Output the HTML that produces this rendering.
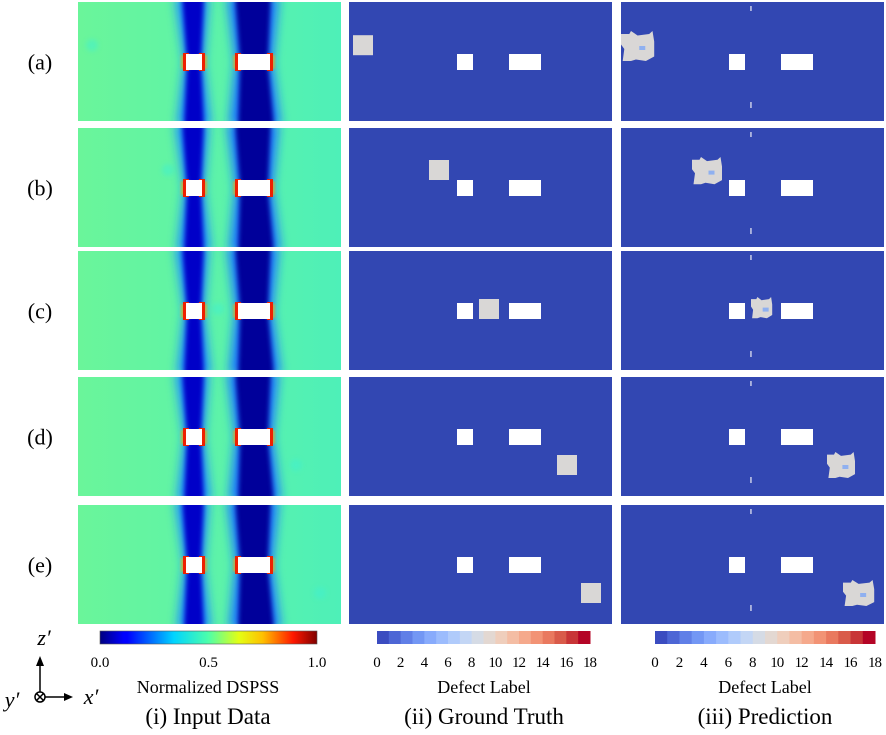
<!DOCTYPE html>
<html><head><meta charset="utf-8">
<style>
html,body{margin:0;padding:0;background:#fff;}
body{width:886px;height:735px;overflow:hidden;position:relative;font-family:"Liberation Serif",serif;}
svg{position:absolute;left:0;top:0;}
</style></head>
<body>
<svg id="fig" width="886" height="735" viewBox="0 0 886 735" xmlns="http://www.w3.org/2000/svg">
<defs>
  <linearGradient id="bg" x1="0" x2="1" y1="0" y2="0">
    <stop offset="0" stop-color="#6af59a"/><stop offset="0.5" stop-color="#5ef3a8"/><stop offset="1" stop-color="#4ef0b8"/>
  </linearGradient>
  <linearGradient id="jet" x1="0" x2="1">
    <stop offset="0" stop-color="#00007f"/><stop offset="0.11" stop-color="#0000ff"/><stop offset="0.125" stop-color="#0000ff"/>
    <stop offset="0.34" stop-color="#00d4ff"/><stop offset="0.5" stop-color="#4dffaa"/><stop offset="0.64" stop-color="#e3ff14"/>
    <stop offset="0.75" stop-color="#ffc000"/><stop offset="0.89" stop-color="#ff1800"/><stop offset="1" stop-color="#7f0000"/>
  </linearGradient>
  <filter id="blur6" x="-100%" y="-50%" width="300%" height="200%"><feGaussianBlur stdDeviation="5"/></filter>
  <filter id="blur3" x="-100%" y="-50%" width="300%" height="200%"><feGaussianBlur stdDeviation="2.5"/></filter>
  <filter id="blur1" x="-100%" y="-50%" width="300%" height="200%"><feGaussianBlur stdDeviation="1"/></filter>
</defs>
<g id="panels"></g>
<g id="bars"></g>
<g id="text"></g>
</svg>
<script>
// layout (px)
const colX = [78, 349, 621];
const colW = 263;
const rowY = [2, 128, 251, 377, 505];
const rowH = 119;
const CELL = 4;
// data (grid cell units within each panel, 66 x 30 grid)
const rowLabels = ['(a)','(b)','(c)','(d)','(e)'];
const holeSmall = [27, 13, 4, 4];   // col,row,w,h
const holeBig = [40, 13, 8, 4];
const gtDefectCol = [1, 20, 32.5, 52, 58];
const gtDefectRow = [8.3, 8, 12, 19.5, 19.5];
const gtDefectSize = 5;
const predBlobCol = [0, 17.75, 32.5, 51.5, 55.5];
const predBlobRow = [7.25, 7.25, 11.5, 18.75, 18.75];
const predBlobW = [8.3, 7.5, 5.3, 7, 7.8];
const predBlobH = [7.5, 6.8, 5.3, 6.5, 6.5];
const cbTicks1 = ['0.0','0.5','1.0'];
const cbTicks2 = ['0','2','4','6','8','10','12','14','16','18'];
const nLevels = 18;

const NS='http://www.w3.org/2000/svg';
function mk(tag, attrs, parent){const e=document.createElementNS(NS,tag);for(const k in attrs)e.setAttribute(k,attrs[k]);parent.appendChild(e);return e;}
const P=document.getElementById('panels');
const xs=(c,col)=>colX[col]+c*CELL;
const ys=(r,row)=>rowY[row]+r*CELL;
const blobShape=[[0,0.1],[0.25,0.1],[0.3,0],[0.5,0.15],[0.85,0.1],[0.95,0],[1,0.35],[1,0.85],[0.75,1],[0.45,0.95],[0.3,1],[0.05,1],[0.1,0.6],[0,0.45]];

for(let r=0;r<5;r++){
  const g=mk('g',{},P);
  
  
  const cid='clip'+r;
  const cp=mk('clipPath',{id:cid},g);
  mk('rect',{x:colX[0],y:rowY[r],width:colW,height:rowH},cp);
  const gi=mk('g',{'clip-path':'url(#'+cid+')'},g);
  mk('rect',{x:colX[0],y:rowY[r],width:colW,height:rowH,fill:'url(#bg)'},gi);
  mk('circle',{cx:xs(gtDefectCol[r]+2.5,0),cy:ys(gtDefectRow[r]+2.5,r),r:6,fill:'#3ff0d0',opacity:0.5,filter:'url(#blur3)'},gi);
  const top=rowY[r], bot=rowY[r]+rowH, cy=ys(holeSmall[1]+2,r);
  const sx0=xs(holeSmall[0],0), sx1=xs(holeSmall[0]+holeSmall[2],0);
  const bx0=xs(holeBig[0],0), bx1=xs(holeBig[0]+holeBig[2],0);
  // small hole band
  mk('polygon',{points:`${sx0-11},${top-5} ${sx1+7},${top-5} ${sx1+2},${cy} ${sx1+9},${bot+5} ${sx0-9},${bot+5} ${sx0-2},${cy}`,fill:'#1e8cff',filter:'url(#blur6)'},gi);
  mk('polygon',{points:`${sx0-4},${top-5} ${sx1+2},${top-5} ${sx1-1},${cy} ${sx1+2},${bot+5} ${sx0-2},${bot+5} ${sx0+1},${cy}`,fill:'#0000c8',filter:'url(#blur3)'},gi);
  // big hole band
  mk('polygon',{points:`${bx0-11},${top-5} ${bx1+9},${top-5} ${bx1+3},${cy} ${bx1+11},${bot+5} ${bx0-9},${bot+5} ${bx0-3},${cy}`,fill:'#1a7cff',filter:'url(#blur6)'},gi);
  mk('polygon',{points:`${bx0-3},${top-5} ${bx1+1},${top-5} ${bx1-2},${cy} ${bx1+4},${bot+5} ${bx0},${bot+5} ${bx0+2},${cy}`,fill:'#00009a',filter:'url(#blur3)'},gi);
  // red edges
  [[sx0,holeSmall[3]],[sx1,holeSmall[3]],[bx0,holeBig[3]],[bx1,holeBig[3]]].forEach(([x,h])=>{
    mk('rect',{x:x-5,y:ys(holeSmall[1],r)+1,width:10,height:h*CELL-2,fill:'#ffb000',opacity:0.6,filter:'url(#blur1)'},gi);
    mk('rect',{x:x-3,y:ys(holeSmall[1],r)-1,width:6,height:h*CELL+2,fill:'#ee2000'},gi);
  });
  mk('rect',{x:sx0,y:ys(holeSmall[1],r),width:holeSmall[2]*CELL,height:holeSmall[3]*CELL,fill:'#fff'},gi);
  mk('rect',{x:bx0,y:ys(holeBig[1],r),width:holeBig[2]*CELL,height:holeBig[3]*CELL,fill:'#fff'},gi);

  // column 2: ground truth
  const g2=mk('g',{},P);
  
  
  mk('rect',{x:colX[1],y:rowY[r],width:colW,height:rowH,fill:'#3247b2'},g2);
  mk('rect',{x:xs(holeSmall[0],1),y:ys(holeSmall[1],r),width:holeSmall[2]*CELL,height:holeSmall[3]*CELL,fill:'#fff'},g2);
  mk('rect',{x:xs(holeBig[0],1),y:ys(holeBig[1],r),width:holeBig[2]*CELL,height:holeBig[3]*CELL,fill:'#fff'},g2);
  const d=mk('rect',{x:xs(gtDefectCol[r],1),y:ys(gtDefectRow[r],r),width:gtDefectSize*CELL,height:gtDefectSize*CELL,fill:'#d9d7d6'},g2);
  
  

  // column 3: prediction
  const g3=mk('g',{},P);
  
  
  mk('rect',{x:colX[2],y:rowY[r],width:colW,height:rowH,fill:'#3247b2'},g3);
  mk('rect',{x:xs(holeSmall[0],2),y:ys(holeSmall[1],r),width:holeSmall[2]*CELL,height:holeSmall[3]*CELL,fill:'#fff'},g3);
  mk('rect',{x:xs(holeBig[0],2),y:ys(holeBig[1],r),width:holeBig[2]*CELL,height:holeBig[3]*CELL,fill:'#fff'},g3);
  mk('rect',{x:xs(32.3,2),y:ys(1,r),width:1.5,height:5,fill:'#c8cce8'},g3);
  mk('rect',{x:xs(32.3,2),y:ys(25,r),width:1.5,height:6,fill:'#c8cce8'},g3);
  const bx=xs(predBlobCol[r],2), by=ys(predBlobRow[r],r), bw=predBlobW[r]*CELL, bh=predBlobH[r]*CELL;
  const b=mk('polygon',{points:blobShape.map(([u,v])=>`${(bx+u*bw).toFixed(1)},${(by+v*bh).toFixed(1)}`).join(' '),fill:'#d9d7d6'},g3);
  
  
  mk('rect',{x:bx+bw*0.55,y:by+bh*0.5,width:6,height:4,fill:'#8fb0f0'},g3);

  const t=mk('text',{x:40,y:rowY[r]+rowH/2+8,'font-size':22,'text-anchor':'middle',fill:'#000'},document.getElementById('text'));
  t.textContent=rowLabels[r];
  
  
}

// colorbars
const B=document.getElementById('bars');
const T=document.getElementById('text');
const cbY=631, cbH=13;
mk('rect',{x:100,y:cbY,width:217,height:cbH,fill:'url(#jet)',stroke:'#555','stroke-width':0.6},B);
cbTicks1.forEach((s,i)=>{
  const x=100+i*217/(cbTicks1.length-1);
  const t=mk('text',{x:x,y:667,'font-size':15,'text-anchor':'middle'},T);t.textContent=s;
  
  
});
const cw=[[59,76,192],[85,113,222],[112,148,243],[141,176,254],[170,199,253],[197,215,245],[221,221,221],[239,207,190],[246,183,156],[244,154,123],[231,117,91],[208,73,62],[180,4,38]];
function cwAt(t){const p=t*(cw.length-1),i=Math.min(Math.floor(p),cw.length-2),f=p-i;return 'rgb('+cw[i].map((v,k)=>Math.round(v+(cw[i+1][k]-v)*f)).join(',')+')';}
[[377,213],[655,220]].forEach(([x0,w],ci)=>{
  const g=mk('g',{},B);
  
  
  for(let i=0;i<nLevels;i++) mk('rect',{x:x0+i*w/nLevels,y:cbY,width:w/nLevels+0.5,height:cbH,fill:cwAt(i/(nLevels-1))},g);
  cbTicks2.forEach((s,i)=>{
    const x=x0+i*w/(cbTicks2.length-1);
    const t=mk('text',{x:x,y:667,'font-size':15,'text-anchor':'middle'},T);
    if(s.length>1)t.setAttribute('textLength','14');
    t.textContent=s;
    
    
  });
});
function txt(s,x,y,fs,name,extra){const t=mk('text',Object.assign({x:x,y:y,'font-size':fs,'text-anchor':'middle'},extra||{}),T);t.textContent=s;return t;}
txt('Normalized DSPSS',208,693,18,'colorbar1-title');
txt('Defect Label',484,693,18,'colorbar2-title');
txt('Defect Label',765,693,18,'colorbar3-title');
txt('(i) Input Data',208,724,23,'column-title-input');
txt('(ii) Ground Truth',484,724,23,'column-title-gt');
txt('(iii) Prediction',765,724,23,'column-title-pred');
txt('z\u2032',44,645,22,'axis-z',{'font-style':'italic'});
txt('x\u2032',91,704,22,'axis-x',{'font-style':'italic'});
txt('y\u2032',12,707,22,'axis-y',{'font-style':'italic'});
const ax=mk('g',{stroke:'#000','stroke-width':1.5,fill:'none'},B);


mk('line',{x1:40,y1:692,x2:40,y2:662},ax);
mk('polygon',{points:'36,666 44,666 40,656',fill:'#000',stroke:'none'},ax);
mk('line',{x1:45,y1:697,x2:66,y2:697},ax);
mk('polygon',{points:'64,693 64,701 73,697',fill:'#000',stroke:'none'},ax);
mk('circle',{cx:40,cy:697,r:5},ax);
mk('line',{x1:36.5,y1:693.5,x2:43.5,y2:700.5},ax);
mk('line',{x1:43.5,y1:693.5,x2:36.5,y2:700.5},ax);
</script>
</body></html>
